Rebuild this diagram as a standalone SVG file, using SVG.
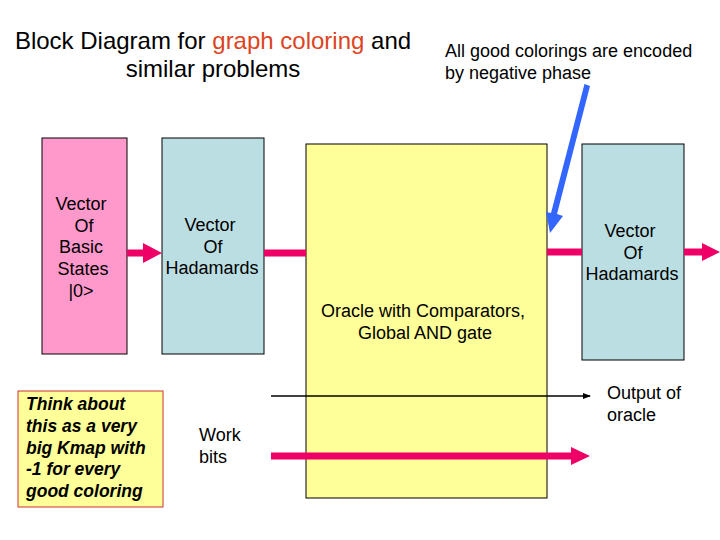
<svg xmlns="http://www.w3.org/2000/svg" width="720" height="540" viewBox="0 0 720 540">
<style>
text{font-family:"Liberation Sans",Arial,sans-serif;fill:#000}
.t{font-size:24px}
.n{font-size:18px}
.s{font-size:18px}
.c{text-anchor:middle}
.box{stroke:#000;stroke-width:1}
.pk{fill:#ff99cc}
.cy{fill:#bbdee3}
.yl{fill:#ffff99}
.ar{fill:#ee0066}
.bi{font-size:17.5px;font-weight:bold;font-style:italic}
</style>
<defs>
<marker id="ah" markerWidth="8" markerHeight="8" refX="7" refY="4" orient="auto" markerUnits="userSpaceOnUse">
<path d="M0,1 L8,4 L0,7 Z" fill="#000"/>
</marker>
</defs>
<rect width="720" height="540" fill="#fff"/>
<g id="title">
<text class="t c" x="213" y="49">Block Diagram for <tspan fill="#dd4422">graph coloring</tspan> and</text>
<text class="t c" x="213" y="77">similar problems</text>
</g>
<g id="note">
<text class="s" x="445" y="57">All good colorings are encoded</text>
<text class="s" x="445" y="79">by negative phase</text>
</g>
<g id="basic">
<rect class="box pk" x="42" y="138" width="85" height="216"/>
<text class="n c" x="81" y="210">Vector</text>
<text class="n c" x="84" y="232">Of</text>
<text class="n c" x="81" y="253">Basic</text>
<text class="n c" x="83" y="275">States</text>
<text class="n c" x="81" y="297">|0&gt;</text>
</g>
<g id="had1">
<rect class="box cy" x="162" y="138" width="102" height="216"/>
<text class="n c" x="210" y="231">Vector</text>
<text class="n c" x="213" y="253">Of</text>
<text class="n c" x="212" y="274">Hadamards</text>
</g>
<g id="oracle">
<rect class="box yl" x="306" y="144" width="241" height="354"/>
<text class="n c" x="423" y="317">Oracle with Comparators,</text>
<text class="n c" x="425" y="339">Global AND gate</text>
</g>
<g id="had2">
<rect class="box cy" x="582" y="144" width="102" height="216"/>
<text class="n c" x="630" y="237">Vector</text>
<text class="n c" x="633" y="259">Of</text>
<text class="n c" x="632" y="280">Hadamards</text>
</g>
<g id="think">
<rect x="18" y="391" width="145" height="116" fill="#ffff99" stroke="#cc3333" stroke-width="1"/>
<text class="bi" x="26" y="410">Think about</text>
<text class="bi" x="26" y="432">this as a very</text>
<text class="bi" x="26" y="454">big Kmap with</text>
<text class="bi" x="26" y="475">-1 for every</text>
<text class="bi" x="26" y="497">good coloring</text>
</g>
<g id="labels">
<text class="n" x="199" y="441">Work</text>
<text class="n" x="199" y="463">bits</text>
<text class="n" x="607" y="399">Output of</text>
<text class="n" x="607" y="421">oracle</text>
</g>
<g id="connectors">
<path class="ar" d="M127,249.5 H143 V243 L162,253 L143,263 V256.5 H127 Z"/>
<rect class="ar" x="264" y="249.5" width="42" height="7"/>
<rect class="ar" x="547" y="248.5" width="35" height="7"/>
<path class="ar" d="M684,248.5 H702 V243 L720,252 L702,261 V255.5 H684 Z"/>
<path class="ar" d="M271,452.5 H571 V447 L590,456 L571,465 V459.5 H271 Z"/>
<line x1="271" y1="396" x2="590" y2="396" stroke="#000" stroke-width="1.3" marker-end="url(#ah)"/>
<path d="M584.5,84 L590,86 L557,214 L563,216 L550,233 L546,212 L551,213 Z" fill="#3366ff"/>
</g>
</svg>
